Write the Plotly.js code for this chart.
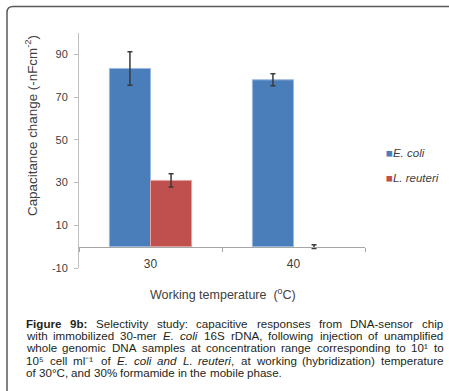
<!DOCTYPE html>
<html>
<head>
<meta charset="utf-8">
<script src="https://cdn.plot.ly/plotly-3.0.1.min.js"></script>
<style>html,body{margin:0;padding:0;background:#fff;}#chart{width:449px;height:391px;}</style>
</head>
<body>
<div id="chart"></div>
<script>
// ---- data ----
var categories = ["30", "40"];
var seriesNames = ["E. coli", "L. reuteri"];
var ecoliValues = [83.4, 78.1];
var ecoliErrors = [7.8, 2.8];
var reuteriValues = [31.0, 0];
var reuteriErrors = [3.1, 0.9];
var yTickVals = [-10, 10, 30, 50, 70, 90];
var yTickText = ["-10", "10", "30", "50", "70", "90"];
var captionLines = [
  "<b>Figure 9b:</b> Selectivity study: capacitive responses from DNA-sensor chip",
  "with immobilized 30-mer <i>E. coli</i> 16S rDNA, following injection of unamplified",
  "whole genomic DNA samples at concentration range corresponding to 10\u00b9 to",
  "10\u2075 cell ml\u207b\u00b9  of <i>E. coli and L. reuteri</i>,  at working (hybridization) temperature",
  "of 30°C, and 30% formamide in the mobile phase."
];

// ---- layout helpers (pixel -> paper) ----
var W = 449, H = 391, L = 79, R = 84, T = 33, B = 123;
var pw = W - L - R, ph = H - T - B;
function px(x) { return (x - L) / pw; }
function py(y) { return (H - B - y) / ph; }

var blue = "#4a7ebb", red = "#c0504d";
var errStyle = {type: "data", visible: true, color: "#3a3a3a", thickness: 1.5, width: 2.5};

var traces = [
  {type: "bar", name: seriesNames[0], x: categories, y: ecoliValues,
   marker: {color: blue, line: {color: "#9bb9e0", width: 1}},
   error_y: Object.assign({array: ecoliErrors}, errStyle), showlegend: false},
  {type: "bar", name: seriesNames[1], x: categories, y: reuteriValues,
   marker: {color: red, line: {color: "#e3a3a1", width: [1, 0]}},
   error_y: Object.assign({array: reuteriErrors}, errStyle), showlegend: false}
];

var font = "Liberation Sans, Arial, sans-serif";
var annotations = [
  {xref: "paper", yref: "paper", x: px(31.5), y: py(125.5), textangle: -90,
   text: "Capacitance change (-nFcm<sup>-2</sup>)", showarrow: false,
   font: {family: font, size: 13.4, color: "#404040"}, xanchor: "center", yanchor: "middle"},
  {xref: "paper", yref: "paper", x: px(223), y: py(294),
   text: "Working temperature  (<sup>o</sup>C)", showarrow: false,
   font: {family: font, size: 12.5, color: "#404040"}, xanchor: "center", yanchor: "middle"},
  {xref: "paper", yref: "paper", x: px(386), y: py(153),
   text: "<span style='color:" + blue + "'>■</span><i>" + seriesNames[0] + "</i>", showarrow: false,
   borderpad: 0, borderwidth: 0,
   font: {family: font, size: 11.5, color: "#404040"}, xanchor: "left", yanchor: "middle"},
  {xref: "paper", yref: "paper", x: px(386), y: py(178),
   text: "<span style='color:" + red + "'>■</span><i>" + seriesNames[1] + "</i>", showarrow: false,
   borderpad: 0, borderwidth: 0,
   font: {family: font, size: 11.5, color: "#404040"}, xanchor: "left", yanchor: "middle"}
];

// ---- justified caption ----
var capSize = 11.6, capLeft = 26, capRight = 443.5;
var lineY = [323, 335.3, 347.6, 359.9, 372.2];
var ctx = document.createElement("canvas").getContext("2d");
function parseWords(line) {
  var parts = line.split(/(<\/?(?:b|i|sup)>)/);
  var st = {b: false, i: false, sup: false};
  var words = [], cur = null;
  parts.forEach(function (p) {
    var m = p.match(/^<(\/?)(b|i|sup)>$/);
    if (m) { st[m[2]] = !m[1]; return; }
    p.split(/( +)/).forEach(function (c) {
      if (c === "") return;
      if (/^ +$/.test(c)) { cur = null; return; }
      if (!cur) { cur = {segs: []}; words.push(cur); }
      cur.segs.push({t: c, b: st.b, i: st.i, sup: st.sup});
    });
  });
  return words;
}
function segFont(s) {
  return (s.i ? "italic " : "") + (s.b ? "bold " : "") + (capSize * (s.sup ? 0.7 : 1)) + "px 'Liberation Sans', 'DejaVu Sans'";
}
function wordWidth(w) {
  var tot = 0;
  w.segs.forEach(function (s) { ctx.font = segFont(s); tot += ctx.measureText(s.t).width; });
  return tot;
}
function wordHtml(w) {
  return w.segs.map(function (s) {
    var h = s.t;
    if (s.sup) h = "<sup>" + h + "</sup>";
    if (s.i) h = "<i>" + h + "</i>";
    if (s.b) h = "<b>" + h + "</b>";
    return h;
  }).join("");
}
ctx.font = capSize + "px 'Liberation Sans'";
var spaceW = ctx.measureText(" ").width;
captionLines.forEach(function (line, li) {
  var words = parseWords(line);
  var widths = words.map(wordWidth);
  var total = widths.reduce(function (a, b) { return a + b; }, 0);
  var last = li === captionLines.length - 1;
  var gap = last ? spaceW : (capRight - capLeft - total) / (words.length - 1);
  var x = capLeft;
  words.forEach(function (w, k) {
    annotations.push({xref: "paper", yref: "paper", x: px(x), y: py(lineY[li] + 6.7),
      text: wordHtml(w), showarrow: false, xanchor: "left", yanchor: "bottom", align: "left",
      borderpad: 0, borderwidth: 0,
      font: {family: font, size: capSize, color: "#231f20"}});
    x += widths[k] + gap;
  });
});

// frame border with rounded top-left corner
var bx = px(7), by = py(6.5), bb = py(H + 2), br = px(W + 2);
var rx = 6 / pw, ry = 6 / ph;
var border = {type: "path", xref: "paper", yref: "paper",
  path: "M" + bx + "," + bb + " L" + bx + "," + (by - ry) + " Q" + bx + "," + by + " " + (bx + rx) + "," + by + " L" + br + "," + by,
  line: {color: "#5a5a5a", width: 1.5}};

var layout = {
  width: W, height: H,
  margin: {l: L, r: R, t: T, b: B, pad: 0},
  paper_bgcolor: "#ffffff", plot_bgcolor: "#ffffff",
  barmode: "group", bargap: 0.425, bargroupgap: 0,
  showlegend: false,
  xaxis: {type: "category", categoryarray: categories, range: [-0.5, 1.5],
    anchor: "free", position: 10 / 110,
    showline: true, linecolor: "#a6a6a6", linewidth: 1,
    ticks: "outside", tickson: "boundaries", ticklen: 4, tickcolor: "#a6a6a6",
    showgrid: false, zeroline: false, ticklabelstandoff: 6,
    tickfont: {family: font, size: 12, color: "#404040"}},
  yaxis: {range: [-10, 100], tickvals: yTickVals, ticktext: yTickText,
    showline: true, linecolor: "#bfbfbf", linewidth: 1,
    ticks: "outside", ticklen: 4, tickcolor: "#bfbfbf", showgrid: false, zeroline: false,
    ticklabelstandoff: 4,
    tickfont: {family: font, size: 11, color: "#404040"}},
  annotations: annotations,
  shapes: [border]
};

Plotly.newPlot("chart", traces, layout, {displayModeBar: false, staticPlot: true});
</script>
</body>
</html>
